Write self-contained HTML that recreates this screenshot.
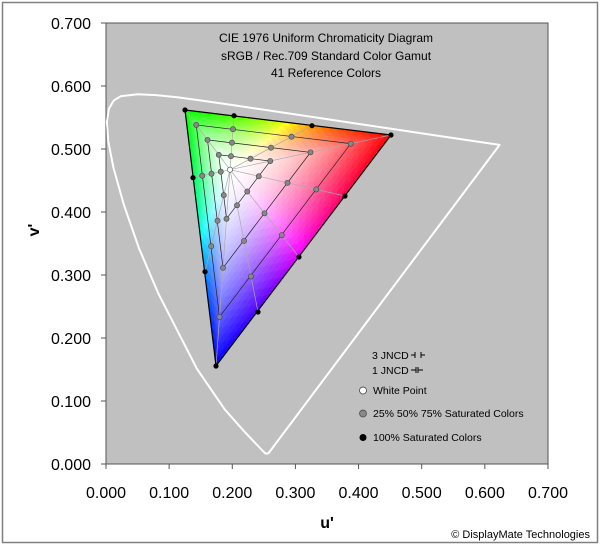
<!DOCTYPE html>
<html><head><meta charset="utf-8"><style>
html,body{margin:0;padding:0;background:#fff;}
svg{display:block;font-family:"Liberation Sans",Arial,sans-serif;}
</style></head><body>
<svg id="s" width="603" height="549" viewBox="0 0 603 549" xmlns="http://www.w3.org/2000/svg">
<rect x="2.5" y="2.5" width="595" height="540" fill="#fff" stroke="#808080" stroke-width="1.5"/>
<rect x="106" y="23" width="442" height="441" fill="#c0c0c0" stroke="#555" stroke-width="1"/>
<g id="fill"></g>
<polyline id="locus" fill="none" stroke="#fff" stroke-width="2" stroke-linejoin="round"/>
<g id="lines"></g>
<g id="pts"></g>
<g id="ticks" stroke="#555" stroke-width="1"></g>
<g font-size="16" fill="#000" id="labels"></g>
<g font-size="12" fill="#000" text-anchor="middle">
<text x="326" y="42">CIE 1976 Uniform Chromaticity Diagram</text>
<text x="326" y="60">sRGB / Rec.709 Standard Color Gamut</text>
<text x="326" y="77">41 Reference Colors</text>
</g>
<g font-size="10.5" fill="#000">
<text x="372" y="359">3 JNCD</text>
<text x="372" y="374">1 JNCD</text>
<text x="373" y="394">White Point</text>
<text x="373" y="417">25% 50% 75% Saturated Colors</text>
<text x="373" y="441">100% Saturated Colors</text>
</g>
<g stroke="#000" stroke-width="1" fill="none">
<line x1="411" y1="355" x2="415" y2="355"/><line x1="415" y1="352" x2="415" y2="358"/>
<line x1="421" y1="352" x2="421" y2="358"/><line x1="421" y1="355" x2="425" y2="355"/>
<line x1="411" y1="370" x2="416" y2="370"/><line x1="416" y1="367" x2="416" y2="373"/>
<line x1="418" y1="367" x2="418" y2="373"/><line x1="418" y1="370" x2="423" y2="370"/>
</g>
<circle cx="363" cy="390.5" r="3.5" fill="#fff" stroke="#333" stroke-width="0.7"/>
<circle cx="363" cy="413.5" r="3.5" fill="#888" stroke="#444" stroke-width="0.7"/>
<circle cx="363" cy="437.5" r="3.5" fill="#000"/>
<text x="327" y="528" font-size="16" font-weight="bold" text-anchor="middle">u'</text>
<text transform="translate(39,230) rotate(-90)" font-size="16" font-weight="bold" text-anchor="middle">v'</text>
<text x="590" y="538" font-size="11" text-anchor="end">© DisplayMate Technologies</text>
</svg>
<script>
var NS="http://www.w3.org/2000/svg";
function X(u){return 106+u*631.4;} function Y(v){return 464-v*630;}
function el(p,t,a){var e=document.createElementNS(NS,t);for(var k in a)e.setAttribute(k,a[k]);p.appendChild(e);return e;}
var L=[[.2569,.0165],[.2522,.0169],[.2347,.035],[.2161,.0549],[.1877,.0871],[.1441,.151],[.0828,.2708],[.0521,.3427],[.0282,.4117],[.0119,.4699],[.0035,.5131],[.0014,.5432],[.0046,.5638],[.0123,.577],[.0231,.5837],[.0501,.5868],[.0792,.5856],[.1127,.5821],[.1531,.5766],[.2026,.5694],[.2623,.5604],[.3315,.5501],[.4035,.5393],[.5203,.5219],[.583,.5125],[.6234,.5065],[.2569,.0165]];
document.getElementById('locus').setAttribute('points',L.map(function(p){return X(p[0]).toFixed(1)+','+Y(p[1]).toFixed(1)}).join(' '));
var G=[185,110],R=[391,135],B=[216,366],W=[230,169.7];
var cG=[0,255,0],cR=[255,0,0],cB=[0,0,255];
var f=document.getElementById('fill');
function col(w,a,b,ca,cb){var s=Math.max(0,1-w);var c=[];var t=a+b||1;for(var i=0;i<3;i++){c.push((a*ca[i]+b*cb[i])/t);}
 var mx=Math.max(c[0],c[1],c[2])||1;var se=Math.pow(s,1.7);
 return 'rgb('+c.map(function(v){return Math.round(255-(255-v*255/mx)*se)}).join(',')+')';}
function sub(P1,P2,c1,c2){var N=26;
 function pt(i,j){var a=i/N,b=j/N,w=1-a-b;return [w*W[0]+a*P1[0]+b*P2[0],w*W[1]+a*P1[1]+b*P2[1]];}
 for(var i=0;i<N;i++)for(var j=0;j<N-i;j++){
  add([[i,j],[i+1,j],[i,j+1]]);
  if(i+j<N-1)add([[i+1,j],[i+1,j+1],[i,j+1]]);
 }
 function add(tr){var a=0,b=0,ps=[];tr.forEach(function(q){a+=q[0]/N/3;b+=q[1]/N/3;var p=pt(q[0],q[1]);ps.push(p[0].toFixed(2)+','+p[1].toFixed(2));});
  var c=col(1-a-b,a,b,c1,c2);el(f,'polygon',{points:ps.join(' '),fill:c,stroke:c,'stroke-width':0.6});}
}
sub(G,R,cG,cR);sub(R,B,cR,cB);sub(B,G,cB,cG);
var H=[[185,110],[234,115.7],[312,125.7],[391,135],[345,196],[299,257],[258,312],[216,366],[205,271.7],[193,177.7]];
var ln=document.getElementById('lines'),pg=document.getElementById('pts');
H.forEach(function(h){el(ln,'line',{x1:W[0],y1:W[1],x2:h[0],y2:h[1],stroke:'#aaa','stroke-width':0.7});});
[0.25,0.5,0.75].forEach(function(s){function P(h){return [W[0]+s*(h[0]-W[0]),W[1]+s*(h[1]-W[1])];}
 var a=P(G),b=P(R),c=P(B);el(ln,'polygon',{points:[a,b,c].map(function(p){return p.join(',')}).join(' '),fill:'none',stroke:'#222','stroke-width':0.7});
 H.forEach(function(h){var p=P(h);el(pg,'circle',{cx:p[0],cy:p[1],r:2.6,fill:'#888',stroke:'#444','stroke-width':0.6});});});
el(ln,'polygon',{points:[G,R,B].map(function(p){return p.join(',')}).join(' '),fill:'none',stroke:'#000','stroke-width':1.2});
H.forEach(function(h){el(pg,'circle',{cx:h[0],cy:h[1],r:2.6,fill:'#000'});});
el(pg,'circle',{cx:W[0],cy:W[1],r:2.6,fill:'#fff',stroke:'#444','stroke-width':0.6});
var tk=document.getElementById('ticks'),lb=document.getElementById('labels');
for(var i=0;i<=7;i++){var x=X(i/10),y=Y(i/10);
 el(tk,'line',{x1:x,y1:464,x2:x,y2:469});el(tk,'line',{x1:101,y1:y,x2:106,y2:y});
 var t=el(lb,'text',{x:x,y:498,'text-anchor':'middle'});t.textContent=(i/10).toFixed(3);
 var t2=el(lb,'text',{x:91,y:y+6,'text-anchor':'end'});t2.textContent=(i/10).toFixed(3);}
</script>
</body></html>
